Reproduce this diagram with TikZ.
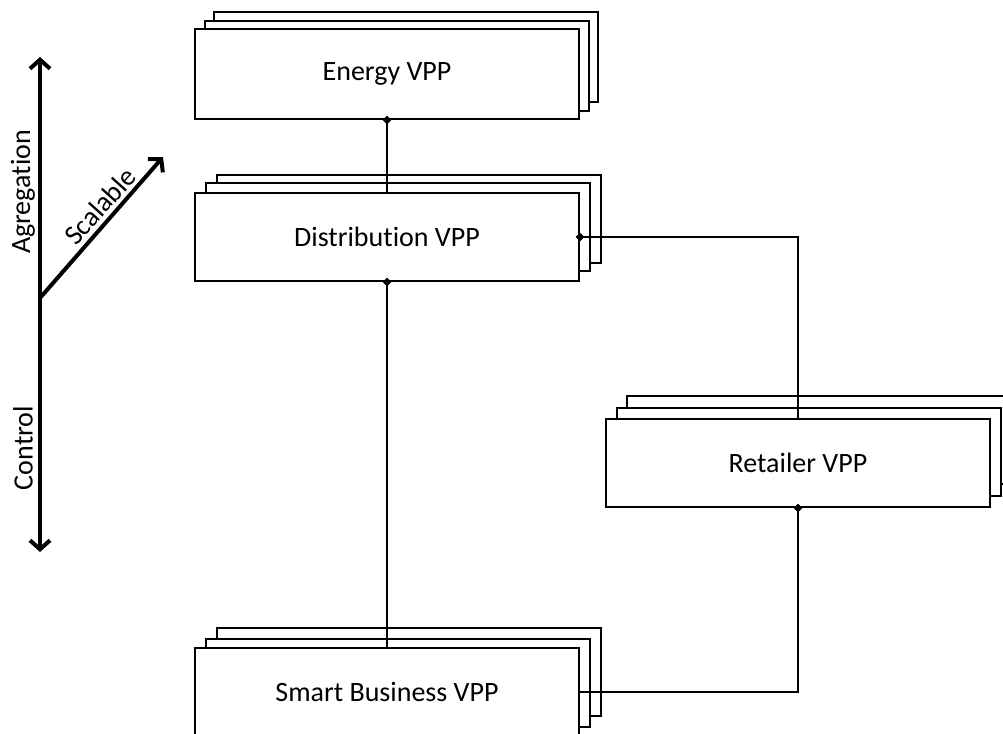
\documentclass[tikz,border=0pt]{standalone}
\usepackage{fontspec}
\setmainfont{Carlito}[Ligatures=CommonOff]
\usetikzlibrary{arrows.meta,shadows,shapes.geometric}
\begin{document}
\begin{tikzpicture}[x=1pt,y=-1pt,
  lbl/.style={font=\fontsize{28}{34}\selectfont, inner sep=0pt},
  vpp/.style n args={5}{draw, line width=2pt, fill=white,
    minimum width=384pt, minimum height=#1, inner sep=0pt,
    font=\fontsize{28}{34}\selectfont,
    copy shadow={shadow xshift=#4, shadow yshift=#5, draw=black, fill=white, line width=2pt},
    copy shadow={shadow xshift=#2, shadow yshift=#3, draw=black, fill=white, line width=2pt}},
  conn/.style={line width=2pt},
  dot/.style={diamond, fill=black, inner sep=0pt, minimum size=9pt},
  axis/.style={line width=4pt, {Straight Barb[length=9pt,width=20pt]}-{Straight Barb[length=9pt,width=20pt]}},
  axisone/.style={line width=4pt, -{Straight Barb[length=9pt,width=20pt]}}]
\useasboundingbox[fill=white] (0,0) rectangle (1003,733);
\clip (0,0) rectangle (1003,733);

% boxes
\node[vpp={90pt}{10pt}{8pt}{19pt}{17pt}] (E) at (387,74) {Energy VPP};
\node[vpp={88pt}{11pt}{10pt}{22pt}{18pt}] (D) at (387,237) {Distribution VPP};
\node[vpp={88pt}{11pt}{11pt}{21pt}{23pt}] (R) at (798,463) {Retailer VPP};
\node[vpp={88pt}{11pt}{9pt}{22pt}{20pt}] (S) at (387,692) {Smart Business VPP};

% connectors
\draw[conn] (E.south) -- (D.north);
\draw[conn] (D.south) -- (S.north);
\draw[conn] (D.east) -| (R.north);
\draw[conn] (R.south) |- (S.east);
\node[dot] (d1) at (E.south) {};
\node[dot] (d2) at (D.south) {};
\node[dot] (d3) at (D.east) {};
\node[dot] (d4) at (R.south) {};

% axes
\coordinate (atop) at (40,57);
\coordinate (abot) at (40,552);
\coordinate (aorg) at (40,298);
\coordinate (adiag) at (163,157);
\draw[axis] (abot) -- (atop);
\draw[axisone] (aorg) -- (adiag);
\node[lbl, rotate=90] (lagg) at (23,192) {Agregation};
\node[lbl, rotate=90] (lctl) at (23,448) {Control};
\node[lbl, rotate=48] (lscl) at (100,206) {Scalable};
\end{tikzpicture}
\end{document}
